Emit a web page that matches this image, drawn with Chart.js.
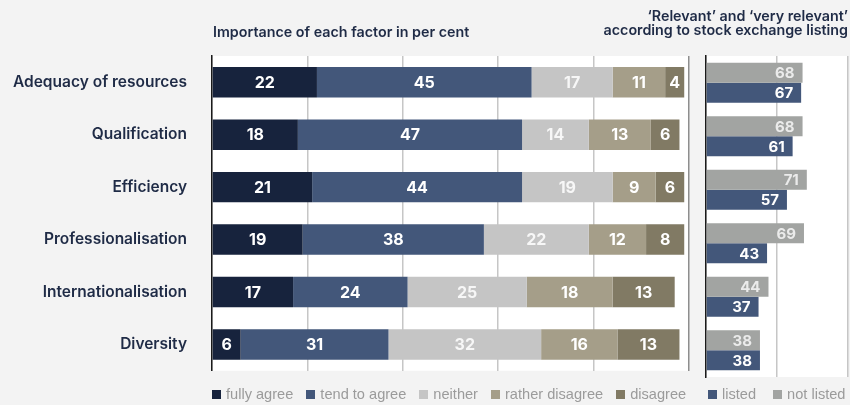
<!DOCTYPE html>
<html>
<head>
<meta charset="utf-8">
<script src="https://cdn.jsdelivr.net/npm/chart.js@4.4.1/dist/chart.umd.min.js"></script>
<style>
  html, body { margin: 0; padding: 0; background: #f3f3f3; }
  #wrap { position: relative; width: 850px; height: 405px; overflow: hidden; font-family: Inter, sans-serif; }
  #left { position: absolute; left: 0; top: 0; }
  #right { position: absolute; left: 695px; top: 0; }
  .title { position: absolute; font-weight: 600; font-size: 14.3px; color: #1f2b46; line-height: 13.5px; white-space: nowrap; }
  #titleLeft { left: 213px; top: 25px; }
  #titleRight { right: 2px; top: 9px; text-align: right; }
  .legend { position: absolute; top: 386px; display: flex; white-space: nowrap;
            font-family: "Liberation Sans", Arial, sans-serif; font-size: 14.6px; line-height: 16px; color: #9b9b9b; }
  .legend .item { display: flex; align-items: center; }
  .legend i { width: 9px; height: 9px; margin-right: 5px; display: inline-block; }
  #legendLeft { left: 212px; gap: 13px; }
  #legendRight { left: 708px; gap: 17px; }
</style>
</head>
<body>
<div id="wrap">
  <canvas id="left" width="700" height="405"></canvas>
  <canvas id="right" width="155" height="405"></canvas>
  <div class="title" id="titleLeft">Importance of each factor in per cent</div>
  <div class="title" id="titleRight">‘Relevant’ and ‘very relevant’<br>according to stock exchange listing</div>
  <div class="legend" id="legendLeft"></div>
  <div class="legend" id="legendRight"></div>
</div>
<script>
// Survey answers per factor (per cent)
const factors = ['Adequacy of resources', 'Qualification', 'Efficiency', 'Professionalisation', 'Internationalisation', 'Diversity'];
const answerLabels = ['fully agree', 'tend to agree', 'neither', 'rather disagree', 'disagree'];
const fullyAgree = [22, 18, 21, 19, 17, 6];
const tendToAgree = [45, 47, 44, 38, 24, 31];
const neither = [17, 14, 19, 22, 25, 32];
const ratherDisagree = [11, 13, 9, 12, 18, 16];
const disagree = [4, 6, 6, 8, 13, 13];

// 'Relevant' + 'very relevant' by listing status
const listingLabels = ['listed', 'not listed'];
const listed = [67, 61, 57, 43, 37, 38];
const notListed = [68, 68, 71, 69, 44, 38];

const answerColors = ['#17233d', '#43577a', '#c5c5c5', '#a59e89', '#817a64'];
const answerTextColors = ['#ffffff', '#ffffff', 'rgba(255,255,255,0.85)', '#ffffff', '#ffffff'];
const listingColors = ['#43577a', '#a2a4a2'];

const navy = '#1f2b46';

// white plot area behind the bars
const plotBackground = {
    id: 'plotBackground',
    beforeDraw(chart) {
        const { ctx, chartArea: a } = chart;
        ctx.save();
        ctx.fillStyle = '#ffffff';
        ctx.fillRect(a.left, a.top, a.right - a.left, a.bottom - a.top);
        ctx.restore();
    }
};

// value labels inside the bars
const barLabels = {
    id: 'barLabels',
    afterDatasetsDraw(chart, args, opts) {
        const ctx = chart.ctx;
        ctx.save();
        ctx.font = opts.font;
        ctx.textBaseline = 'middle';
        chart.data.datasets.forEach((ds, i) => {
            const meta = chart.getDatasetMeta(i);
            meta.data.forEach((bar, j) => {
                ctx.fillStyle = ds.labelColor;
                if (opts.anchor === 'end') {
                    ctx.textAlign = 'right';
                    ctx.fillText(ds.data[j], bar.x - opts.offset, bar.y + 1);
                } else {
                    ctx.textAlign = 'center';
                    ctx.fillText(ds.data[j], (bar.x + bar.base) / 2, bar.y + 1);
                }
            });
        });
        ctx.restore();
    }
};

const answerSeries = [fullyAgree, tendToAgree, neither, ratherDisagree, disagree];

new Chart(document.getElementById('left'), {
    type: 'bar',
    data: {
        labels: factors,
        datasets: answerSeries.map((values, i) => ({
            label: answerLabels[i],
            data: values,
            backgroundColor: answerColors[i],
            labelColor: answerTextColors[i],
            borderWidth: 0,
            barPercentage: 0.58,
            categoryPercentage: 1
        }))
    },
    options: {
        indexAxis: 'y',
        responsive: false,
        animation: false,
        layout: { padding: { left: 0, right: 11, top: 56, bottom: 28 } },
        scales: {
            x: {
                stacked: true,
                min: 0,
                max: 100,
                ticks: { display: false, stepSize: 20 },
                grid: {
                    drawTicks: false,
                    color: c => c.tick.value === 100 ? '#8e8e8e' : '#c6c6c6',
                    lineWidth: 1.5
                },
                border: { display: false },
                afterFit(s) { s.height = 0; }
            },
            y: {
                stacked: true,
                grid: { display: false, drawTicks: false },
                border: { color: '#1a1a1a', width: 1.5 },
                ticks: { padding: 25, color: navy, font: { family: 'Inter', size: 15.5, weight: '600' } },
                afterFit(s) { s.width = 212; }
            }
        },
        plugins: {
            legend: { display: false },
            tooltip: { enabled: false },
            barLabels: { font: '700 16px Inter', anchor: 'center', offset: 0 }
        }
    },
    plugins: [plotBackground, barLabels]
});

new Chart(document.getElementById('right'), {
    type: 'bar',
    data: {
        labels: factors,
        datasets: [
            { label: listingLabels[1], data: notListed, backgroundColor: listingColors[1], labelColor: 'rgba(255,255,255,0.78)' },
            { label: listingLabels[0], data: listed, backgroundColor: listingColors[0], labelColor: '#ffffff' }
        ].map(ds => Object.assign(ds, { borderWidth: 0, barPercentage: 1, categoryPercentage: 0.75 }))
    },
    options: {
        indexAxis: 'y',
        responsive: false,
        animation: false,
        layout: { padding: { left: 11, right: 2, top: 56, bottom: 28 } },
        scales: {
            x: {
                min: 0,
                max: 100,
                ticks: { display: false, stepSize: 50 },
                grid: { drawTicks: false, color: '#c6c6c6', lineWidth: 1.5 },
                border: { display: false },
                afterFit(s) { s.height = 0; }
            },
            y: {
                grid: { display: false, drawTicks: false },
                border: { color: '#1a1a1a', width: 1.5 },
                ticks: { display: false },
                afterFit(s) { s.width = 0; }
            }
        },
        plugins: {
            legend: { display: false },
            tooltip: { enabled: false },
            barLabels: { font: '700 15px Inter', anchor: 'end', offset: 8 }
        }
    },
    plugins: [plotBackground, barLabels]
});

// shared legend row under both panels
function fillLegend(el, labels, colors) {
    labels.forEach((text, i) => {
        const item = document.createElement('span');
        item.className = 'item';
        const box = document.createElement('i');
        box.style.background = colors[i];
        item.appendChild(box);
        item.appendChild(document.createTextNode(text));
        el.appendChild(item);
    });
}
fillLegend(document.getElementById('legendLeft'), answerLabels, answerColors);
fillLegend(document.getElementById('legendRight'), listingLabels, listingColors);
</script>
</body>
</html>
